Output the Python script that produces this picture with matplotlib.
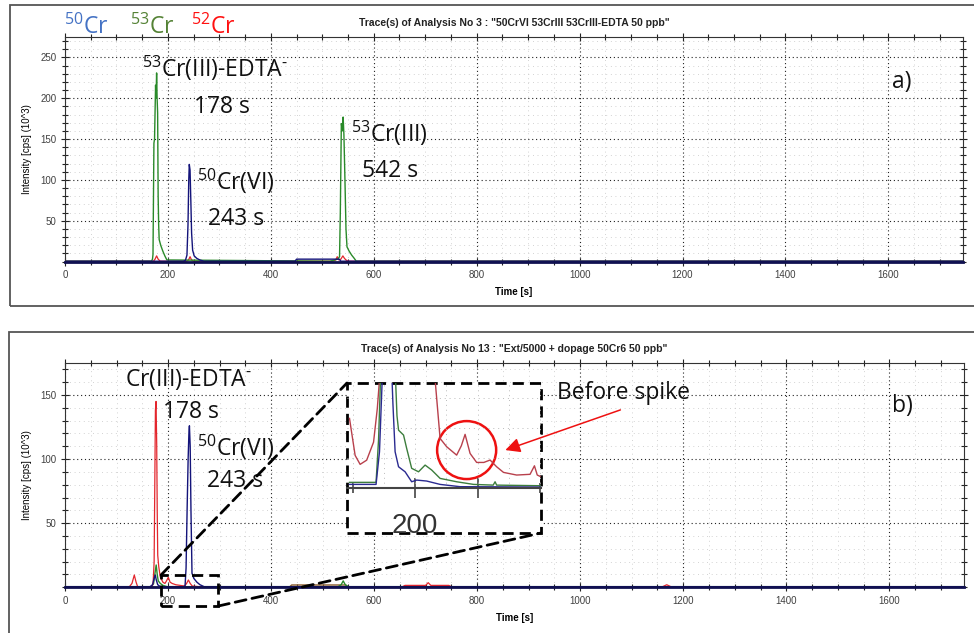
"""Two ICP-MS chromatograms (Cr species), panel a) standards and panel b) sample with zoom inset."""
import matplotlib
matplotlib.use("Agg")
import matplotlib.pyplot as plt  # noqa: E402
from matplotlib.ticker import MultipleLocator, FixedLocator, NullFormatter  # noqa: E402
from matplotlib.patches import Rectangle, Ellipse, ConnectionPatch  # noqa: E402

plt.rcParams.update({
    "mathtext.fontset": "custom",
    "mathtext.rm": "Open Sans",
    "mathtext.it": "Open Sans",
    "mathtext.bf": "Open Sans:bold",
    "mathtext.default": "regular",
})

W, H = 974, 633

# ---- panel a) : 50Cr(VI), 53Cr(III), 53Cr(III)-EDTA standard ----
A_T50 = [0, 230, 234, 237, 239, 240.5, 241.5, 243, 244.5, 246, 248, 251, 256, 262, 270, 447, 450, 533, 536, 1745]
A_I50 = [0.5, 0.5, 1.5, 8, 45, 100, 119, 112, 75, 35, 14, 7, 4, 2, 0.5, 0.5, 3, 3, 0.5, 0.5]
A_T53 = [0, 168, 170, 171, 172.8, 174, 176, 177, 178, 179, 180, 181, 182, 183, 186, 190, 194, 198,
         515, 530, 533.5, 535, 537, 539, 540.5, 542, 544, 546, 548, 552, 557, 562, 566, 1745]
A_I53 = [0.5, 0.5, 3, 9, 145, 150, 216, 200, 231, 200, 182, 80, 45, 27, 20, 13, 7, 2,
         0.5, 3, 6, 60, 169, 160, 177, 155, 100, 40, 18, 13, 8, 4, 0.5, 0.5]
A_T52 = [0, 172, 175, 178, 181, 185, 236, 240, 243, 246, 250, 520, 526, 529, 532, 536, 540, 543, 546, 550, 1745]
A_I52 = [0.5, 0.5, 3, 7, 3, 0.5, 0.5, 2, 6, 2, 0.5, 0.5, 2, 6, 2, 3, 7, 4, 2, 0.5, 0.5]

# ---- panel b) : sample Ext/5000 spiked with 50Cr(VI) ----
B_T50 = [0, 165, 170, 173, 175.3, 177, 180, 185, 230, 233, 235, 237, 239, 240.5, 241.5, 243, 244.5,
         246.5, 250, 256, 262, 270, 1745]
B_I50 = [0.5, 0.5, 2, 7, 9.6, 6, 2, 0.5, 0.5, 1, 15, 60, 100, 120, 126, 110, 60,
         11, 7, 4, 2, 0.5, 0.5]
B_T53 = [0, 168, 172, 175, 177, 179, 181, 185, 190, 198, 530, 536, 540, 544, 550, 1745]
B_I53 = [0.5, 0.5, 3, 12, 17.4, 10, 5, 3, 1.5, 0.5, 0.5, 2, 5, 2, 0.5, 0.5]
B_T52 = [0, 125, 130, 134.5, 138, 141, 168, 171, 173, 174.5, 175.5, 176.7, 178, 179, 180, 182, 185,
         190, 194, 197, 200.5, 204, 208, 215, 232, 236, 239.5, 243, 247, 260,
         655, 660, 700, 705, 710, 745, 750, 1160, 1168, 1176, 1745]
B_I52 = [0.5, 0.5, 3, 9.6, 4, 0.5, 0.5, 3, 20, 90, 138, 145, 112, 60, 25, 16, 8,
         4, 3, 5, 7.8, 4, 3, 2, 1, 3, 5.7, 3, 1, 0.5,
         0.5, 1.5, 1.5, 3.6, 1.5, 1.5, 0.5, 0.5, 2, 0.5, 0.5]
B_TOTH = [0, 435, 440, 545, 550, 1745]
B_IOTH = [0, 0, 1.8, 1.8, 0, 0]

# ---- zoom inset of panel b) (arbitrary intensity units) ----
Z_T52 = [179, 180.8, 182.4, 184.5, 186.7, 187.9, 188.6, 190, 205, 206.4, 208, 210.1, 213.3, 214.8, 216,
         217.6, 219.7, 222, 224, 226.1, 228.3, 232.5, 236.8, 238.2, 239.1, 240]
Z_I52 = [57.8, 27, 19.5, 23, 38, 66, 90, 150, 150, 90, 41.1, 34.2, 27.2, 35, 44.5,
         28.6, 21.1, 21.1, 23.1, 17.5, 12.8, 10.6, 11.2, 18.3, 10.6, 9.5]
Z_T53 = [179, 187.5, 188.3, 189.3, 193.3, 194.2, 194.7, 196.3, 197.3, 198.9, 201.1, 203.2, 205.3, 208,
         213.3, 218.7, 225, 225.6, 226.1, 240]
Z_I53 = [4.5, 4.5, 40, 120, 120, 60, 48, 43.9, 32.8, 16.2, 13.3, 18.9, 14.8, 7.8,
         5, 2.8, 2.2, 5, 2.2, 1.7]
Z_T50 = [179, 187.5, 188.6, 189.9, 192.2, 192.9, 193.6, 194.7, 196.8, 198.9, 200.5, 203.7, 208, 214.4, 240]
Z_I50 = [2.8, 2.8, 30, 120, 120, 70, 30, 17.5, 13.3, 5, 6.4, 5.6, 2.8, 0.9, 0.6]

X_TICKS = [0, 200, 400, 600, 800, 1000, 1200, 1400, 1600]
A_YTICKS = [50, 100, 150, 200, 250]
B_YTICKS = [50, 100, 150]

TRACE = {"50": "#14147a", "53": "#2a8a2a", "52": "#e3262d"}
ZOOM_C = {"50": "#2a2a90", "53": "#3c7d3c", "52": "#b8404c"}
LABEL = {"50": "#4472c4", "53": "#548235", "52": "#ff1010"}
BIG = dict(family="Open Sans", fontsize=16.5, color="#111111", va="baseline", ha="left")
EDTA = r"Cr(III)-EDTA$^{\text{-}}$"


def fx(px):
    return px / W


def fy(py):
    return 1 - py / H


def _panel(ax, ymax, yticks, title):
    ax.set_xlim(0, 1745)
    ax.set_ylim(0, ymax)
    ax.set_xticks(X_TICKS)
    ax.set_yticks(yticks)
    ax.xaxis.set_minor_locator(MultipleLocator(50))
    ax.yaxis.set_minor_locator(MultipleLocator(10))
    ax.set_axisbelow(True)
    ax.grid(which="major", color="#222222", ls=(0, (1, 2.5)), lw=0.8)
    ax.grid(which="minor", color="#c4c4c4", ls=(0, (1, 4.5)), lw=0.6)
    ax.tick_params(which="both", direction="inout", top=True, right=True,
                   labelsize=7, labelcolor="#404040", color="#222222", width=0.8)
    ax.tick_params(which="major", length=6, pad=3)
    ax.tick_params(which="minor", length=4)
    for lab in ax.get_xticklabels() + ax.get_yticklabels():
        lab.set_family("Liberation Sans")
    for s in ax.spines.values():
        s.set_color("#333333")
        s.set_linewidth(0.8)
    ax.spines["bottom"].set_color("#101050")
    ax.spines["bottom"].set_linewidth(2)
    ax.set_title(title, fontsize=7.5, fontweight="bold", family="Liberation Sans",
                 color="#222222", pad=8)
    ax.set_xlabel("Time [s]", fontsize=7, fontweight="bold", family="Liberation Sans", labelpad=5)
    ax.set_ylabel("Intensity [cps] (10^3)", fontsize=7, family="Liberation Sans", labelpad=6)


fig = plt.figure(figsize=(W / 100, H / 100), dpi=100)

# outer frames of the two screenshots
fig.add_artist(Rectangle((fx(10), fy(306)), fx(990 - 10), (306 - 5) / H, transform=fig.transFigure,
                         fill=False, ec="#555555", lw=1.3))
fig.add_artist(Rectangle((fx(9), fy(650)), fx(990 - 9), (650 - 332) / H, transform=fig.transFigure,
                         fill=False, ec="#555555", lw=1.3))

# ---------------- panel a ----------------
ax_a = fig.add_axes([fx(65), fy(261.6), fx(963 - 65), (261.6 - 37) / H])
ax_a.plot(A_T52, A_I52, color=TRACE["52"], lw=0.9)
ax_a.plot(A_T53, A_I53, color=TRACE["53"], lw=1.0)
ax_a.plot(A_T50, A_I50, color=TRACE["50"], lw=1.0)
_panel(ax_a, 275, A_YTICKS, 'Trace(s) of Analysis No 3 : "50CrVI 53CrIII 53CrIII-EDTA 50 ppb"')

fig.text(fx(64), fy(34), r"$^{50}$Cr", **{**BIG, "color": LABEL["50"]})
fig.text(fx(130), fy(34), r"$^{53}$Cr", **{**BIG, "color": LABEL["53"]})
fig.text(fx(191), fy(34), r"$^{52}$Cr", **{**BIG, "color": LABEL["52"]})

fig.text(fx(142), fy(77), r"$^{53}$" + EDTA, **BIG)
fig.text(fx(194), fy(113), "178 s", **BIG)
fig.text(fx(197), fy(190), r"$^{50}$Cr(VI)", **BIG)
fig.text(fx(208), fy(225), "243 s", **BIG)
fig.text(fx(351), fy(142), r"$^{53}$Cr(III)", **BIG)
fig.text(fx(362), fy(177), "542 s", **BIG)
fig.text(fx(892), fy(88), "a)", **BIG)

# ---------------- panel b ----------------
ax_b = fig.add_axes([fx(65), fy(587.3), fx(964 - 65), (587.3 - 363) / H])
ax_b.plot(B_TOTH, B_IOTH, color="#8b5a2b", lw=1.0)
ax_b.plot(B_T53, B_I53, color=TRACE["53"], lw=1.0)
ax_b.plot(B_T52, B_I52, color=TRACE["52"], lw=0.9)
ax_b.plot(B_T50, B_I50, color=TRACE["50"], lw=1.0)
_panel(ax_b, 175, B_YTICKS, 'Trace(s) of Analysis No 13 : "Ext/5000 + dopage 50Cr6 50 ppb"')

fig.text(fx(125), fy(386), EDTA, **BIG)
fig.text(fx(163), fy(418), "178 s", **BIG)
fig.text(fx(197), fy(456), r"$^{50}$Cr(VI)", **BIG)
fig.text(fx(207), fy(487), "243 s", **BIG)
fig.text(fx(892), fy(412), "b)", **BIG)
fig.text(fx(557), fy(399), "Before spike", **BIG)

# zoom inset
ZOOM_T = (186.4, 297.7)
ZOOM_Y = (-14.6, 9.6)
DASH = dict(color="black", lw=2, ls=(0, (4, 2.2)))

ax_z = fig.add_axes([fx(347), fy(533), fx(541 - 347), (533 - 383) / H])
ax_z.set_zorder(5)
ax_z.set_xlim(178.2, 240.3)
ax_z.set_ylim(-37.7, 87.3)
ax_z.vlines([180, 190, 200, 210, 220, 230, 240], 0, 87.3, color="#bbbbbb", ls=(0, (1, 4)), lw=0.7)
ax_z.hlines([25, 50, 75], 178.2, 240.3, color="#bbbbbb", ls=(0, (1, 4)), lw=0.7)
for t, v, k in ((Z_T52, Z_I52, "52"), (Z_T53, Z_I53, "53"), (Z_T50, Z_I50, "50")):
    ln, = ax_z.plot(t, v, color=ZOOM_C[k], lw=1.0)
    ln.set_clip_path(Rectangle((178.2, -5), 62.1, 92.3, transform=ax_z.transData))
for s in ("top", "left", "right"):
    ax_z.spines[s].set_visible(False)
ax_z.spines["bottom"].set_position(("data", 0))
ax_z.spines["bottom"].set_color("#444444")
ax_z.spines["bottom"].set_linewidth(1.5)
ax_z.set_yticks([])
ax_z.set_xticks([200, 220])
ax_z.set_xticklabels(["200", ""])
ax_z.xaxis.set_minor_locator(FixedLocator([180, 240]))
ax_z.xaxis.set_minor_formatter(NullFormatter())
ax_z.tick_params(which="major", direction="inout", length=14, width=1.2, color="#444444",
                 labelsize=20, labelcolor="#333333", pad=11)
ax_z.tick_params(which="minor", direction="inout", length=7, width=1.2, color="#444444")
for lab in ax_z.get_xticklabels():
    lab.set_family("Liberation Sans")
ax_z.add_patch(Rectangle((0, 0), 1, 1, transform=ax_z.transAxes, fill=False, clip_on=False, **DASH))
ax_z.add_patch(Ellipse((216.5, 31.4), 18.9, 48.3, fill=False, ec="#ee1111", lw=1.8))

ax_b.add_patch(Rectangle((ZOOM_T[0], ZOOM_Y[0]), ZOOM_T[1] - ZOOM_T[0], ZOOM_Y[1] - ZOOM_Y[0],
                         fill=False, clip_on=False, zorder=6, **DASH))
for xa, xb in (((ZOOM_T[0], ZOOM_Y[1]), (0, 1)), ((ZOOM_T[1], ZOOM_Y[0]), (1, 0))):
    con = ConnectionPatch(xyA=xa, coordsA=ax_b.transData, xyB=xb, coordsB=ax_z.transAxes, **DASH)
    con.set_zorder(6)
    fig.add_artist(con)

# arrow pointing at the pre-spike peak, drawn above the inset
ax_z.annotate("", xy=(fx(502.7), fy(451)), xycoords="figure fraction",
              xytext=(fx(623), fy(409)), textcoords="figure fraction",
              arrowprops=dict(arrowstyle="-|>", color="#ee1111", lw=1.1, mutation_scale=22),
              zorder=7, annotation_clip=False)

fig.savefig("out.png", dpi=100, facecolor="white")
